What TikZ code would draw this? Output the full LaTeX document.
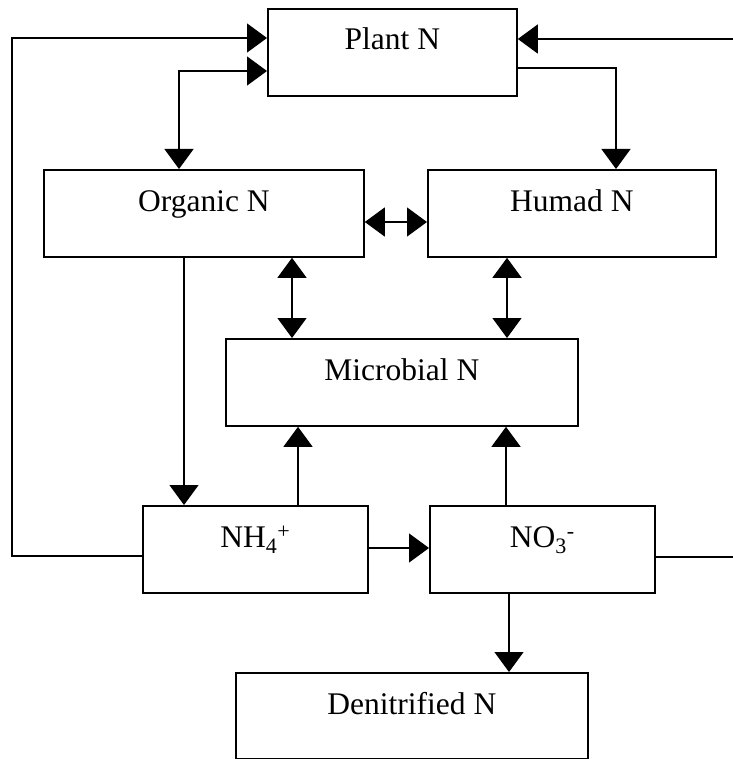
\documentclass[tikz,border=0pt]{standalone}
\usepackage{fontspec}
\setmainfont{Liberation Serif}
\usetikzlibrary{arrows.meta}
\begin{document}
\begin{tikzpicture}[x=1pt,y=-1pt,
  box/.style={draw=black,line width=1.8pt,fill=white,anchor=north west,
    inner xsep=0pt,inner ysep=0pt,text height=42pt,text depth=45pt,
    font=\fontsize{31.5pt}{36pt}\selectfont,align=center},
  arr/.style={line width=1.3pt,-{Triangle[length=20pt,width=29pt]}},
  dbl/.style={line width=1.3pt,{Triangle[length=20pt,width=29pt]}-{Triangle[length=20pt,width=29pt]}},
  ln/.style={line width=1.3pt}]
\fill[white] (0,0) rectangle (732,759);
\useasboundingbox (0,0) rectangle (732,759);

\node[box,minimum width=249pt,text height=41pt,text depth=46pt] (plant) at (267,8) {Plant N};
\node[box,minimum width=320pt] (organic) at (43,169) {Organic N};
\node[box,minimum width=288pt] (humad) at (427,169) {Humad N};
\node[box,minimum width=352pt] (micro) at (225,338) {Microbial N};
\node[box,minimum width=225pt] (nh) at (142,505) {NH\textsubscript{4}\textsuperscript{+}};
\node[box,minimum width=225pt] (no3) at (429,505) {NO\textsubscript{3}\textsuperscript{-}};
\node[box,minimum width=352pt,text depth=44pt] (denit) at (235,672) {Denitrified N};

\coordinate (xL) at (12,0);
\coordinate (xR) at (735,0);
\coordinate (xA) at (179,0);
\coordinate (xB) at (616,0);
\coordinate (xC) at (184,0);
\coordinate (xD) at (292,0);
\coordinate (xE) at (507,0);
\coordinate (xF) at (298,0);
\coordinate (xG) at (506,0);
\coordinate (xH) at (509,0);
\coordinate (y1) at (0,38);
\coordinate (y2) at (0,71);
\coordinate (y3) at (0,39);
\coordinate (y4) at (0,68);
\coordinate (y5) at (0,222);
\coordinate (y6) at (0,556);
\coordinate (y7) at (0,557);
\coordinate (y8) at (0,548);

\draw[arr] (nh.west |- y6) -- (xL |- y6) -- (xL |- y1) -- (plant.west |- y1);
\draw[dbl] (organic.north -| xA) |- (plant.west |- y2);
\draw[arr] (plant.east |- y4) -| (humad.north -| xB);
\draw[arr] (no3.east |- y7) -- (xR |- y7) -- (xR |- y3) -- (plant.east |- y3);
\draw[arr] (organic.south -| xC) -- (nh.north -| xC);
\draw[dbl] (organic.east |- y5) -- (humad.west |- y5);
\draw[dbl] (organic.south -| xD) -- (micro.north -| xD);
\draw[dbl] (humad.south -| xE) -- (micro.north -| xE);
\draw[arr] (nh.north -| xF) -- (micro.south -| xF);
\draw[arr] (no3.north -| xG) -- (micro.south -| xG);
\draw[arr] (nh.east |- y8) -- (no3.west |- y8);
\draw[arr] (no3.south -| xH) -- (denit.north -| xH);
\end{tikzpicture}
\end{document}
